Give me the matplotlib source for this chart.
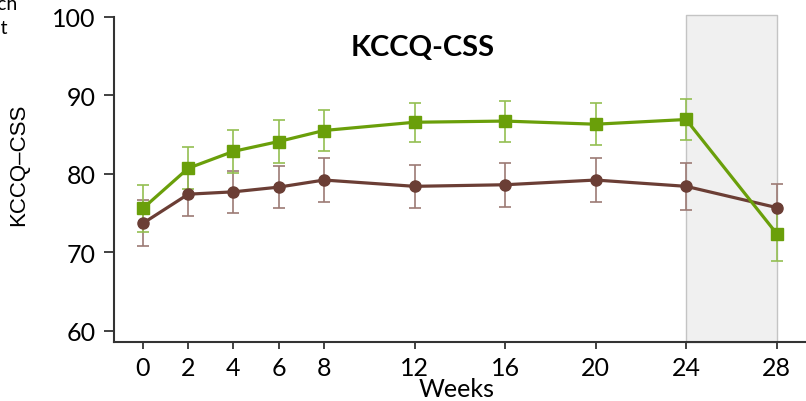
import matplotlib
matplotlib.use("Agg")
import matplotlib.pyplot as plt
import numpy as np

weeks = [0, 2, 4, 6, 8, 12, 16, 20, 24, 28]
green_vals = [75.6, 80.7, 82.85, 84.1, 85.5, 86.55, 86.7, 86.3, 86.9, 72.4]
green_err = [3.0, 2.65, 2.7, 2.7, 2.6, 2.5, 2.6, 2.7, 2.6, 3.5]
brown_vals = [73.7, 77.4, 77.7, 78.3, 79.2, 78.4, 78.6, 79.2, 78.4, 75.7]
brown_err = [2.95, 2.8, 2.7, 2.65, 2.75, 2.7, 2.8, 2.85, 2.95, 3.0]
yticks = [60, 70, 80, 90, 100]
shade_range = (24, 28)

GREEN = "#6a9f0a"
GREEN_ERR = "#93bf52"
BROWN = "#6b3e35"
BROWN_ERR = "#9c7a74"
FONT = "Lato"

fig = plt.figure(figsize=(8.06, 4.02), dpi=100)
ax = fig.add_axes([114/806, 1 - 343/402, 1 - 114/806, (343 - 17.5)/402])

ax.set_xlim(-1.28, 29.3)
ax.set_ylim(58.6, 100)

# shaded period
ax.fill_between(shade_range, [58.6, 58.6], [100.2, 100.2], facecolor="#f0f0f0",
                edgecolor="#c4c4c4", linewidth=1.0, zorder=0, clip_on=False)

ax.errorbar(weeks, brown_vals, yerr=brown_err, fmt="none", ecolor=BROWN_ERR,
            elinewidth=1.2, capsize=4, capthick=1.2, zorder=2)
ax.errorbar(weeks, green_vals, yerr=green_err, fmt="none", ecolor=GREEN_ERR,
            elinewidth=1.2, capsize=4, capthick=1.2, zorder=2)
ax.plot(weeks, brown_vals, color=BROWN, linewidth=2.3, marker="o",
        markersize=8, zorder=3)
ax.plot(weeks, green_vals, color=GREEN, linewidth=2.3, marker="s",
        markersize=8, zorder=4)

for s in ["top", "right"]:
    ax.spines[s].set_visible(False)
for s in ["left", "bottom"]:
    ax.spines[s].set_linewidth(1.5)
    ax.spines[s].set_color("#333333")
ax.spines["left"].set_bounds(58.6, 100)

ax.set_xticks(weeks)
ax.set_xticklabels([str(w) for w in weeks], fontfamily=FONT, fontsize=18)
ax.set_yticks(yticks)
ax.set_yticklabels([str(v) for v in yticks], fontfamily=FONT, fontsize=18)
ax.tick_params(axis="x", length=5, width=1.3, color="#333333", pad=5)
ax.tick_params(axis="y", length=7, width=1.3, color="#333333", pad=6)

fig.text(457/806, 1 - 390/402, "Weeks", ha="center", va="center",
         fontfamily=FONT, fontsize=18)
fig.text(19/806, 1 - 165/402, "KCCQ\u2013CSS", rotation=90, ha="center",
         va="center", fontfamily="Liberation Sans", fontsize=16)
fig.text(423/806, 1 - 48/402, "KCCQ-CSS", ha="center", va="center",
         fontfamily=FONT, fontweight="bold", fontsize=21)

# clipped legend fragments at the left edge
fig.text(17/806, 1 - 4/402, "Each", ha="right", va="center",
         fontfamily=FONT, fontsize=14)
fig.text(8/806, 1 - 28/402, "Treat", ha="right", va="center",
         fontfamily=FONT, fontsize=14)

fig.savefig("out.png", dpi=100)
